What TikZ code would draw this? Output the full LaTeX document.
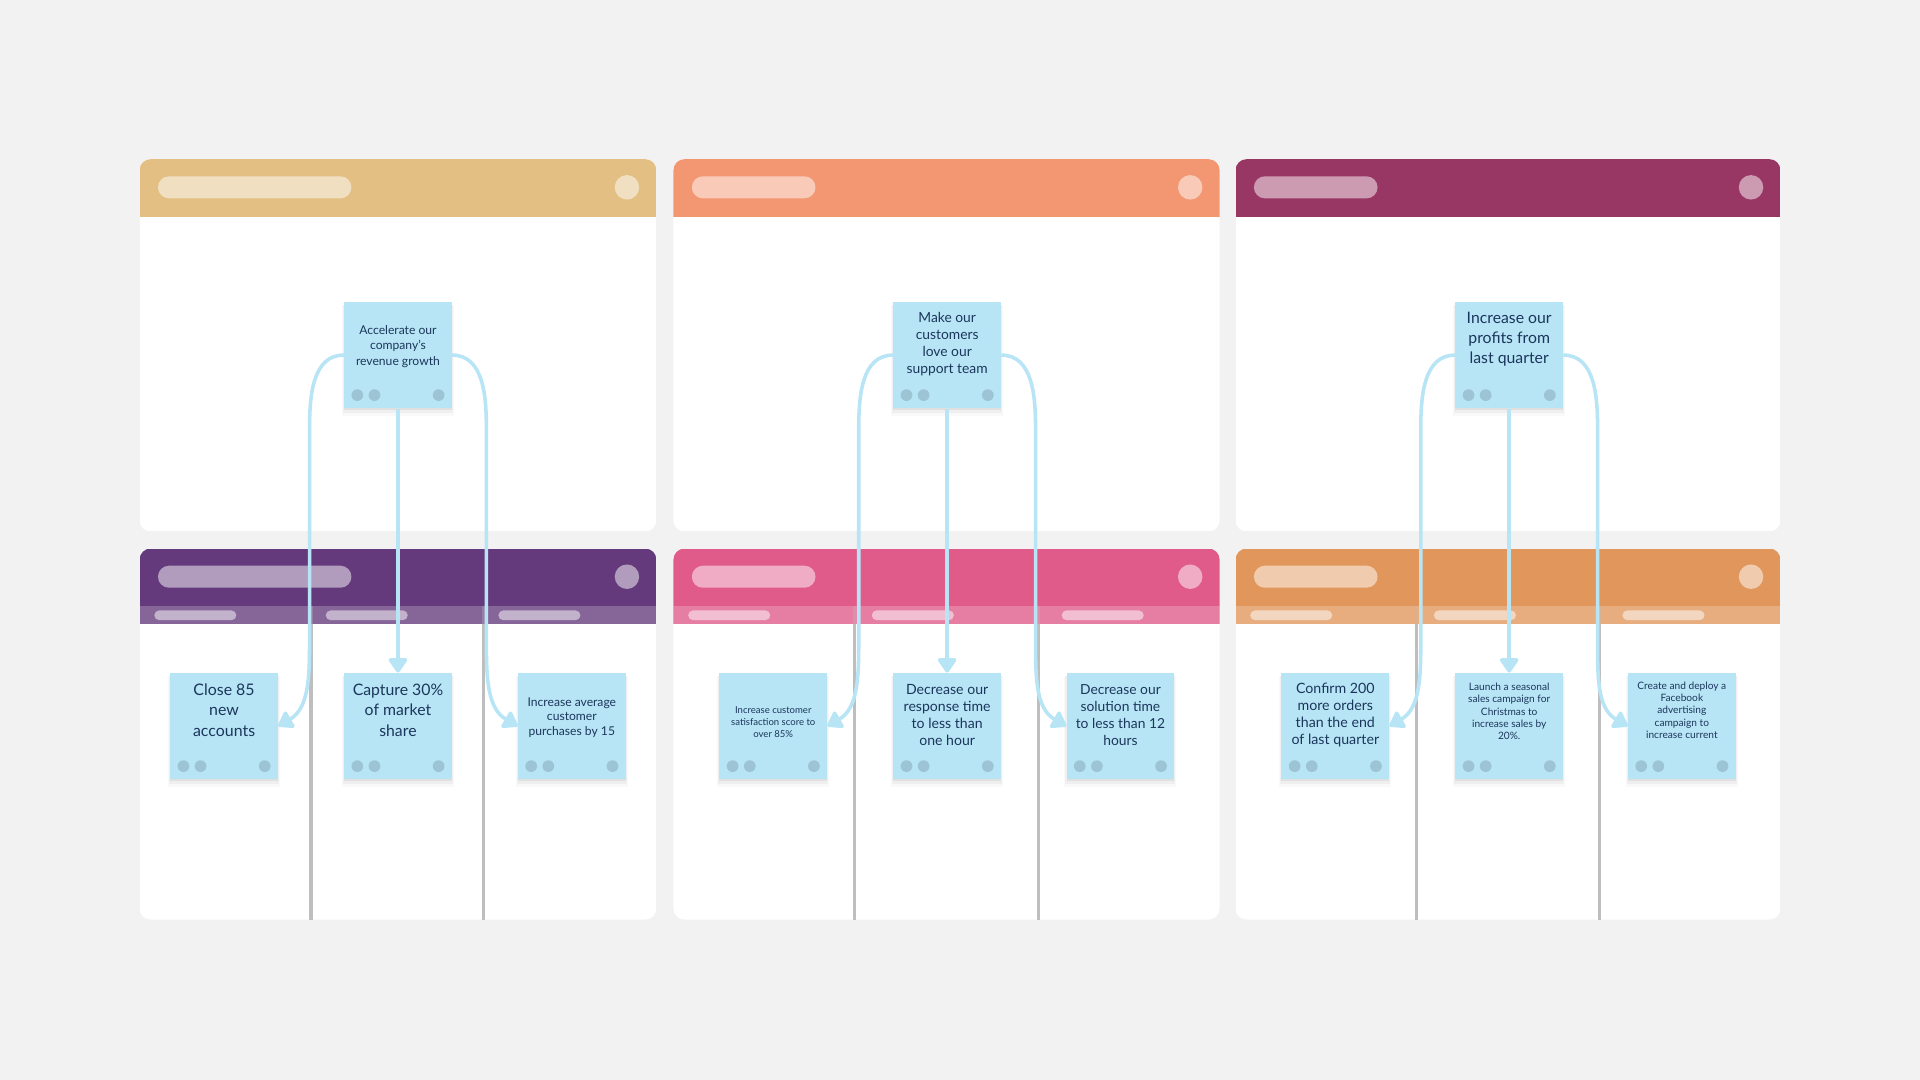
\documentclass[tikz,border=0pt]{standalone}
\usepackage{fontspec}
\setmainfont{Lato}
\usepackage{xcolor}
\usepackage{tikz}
\usetikzlibrary{calc,arrows.meta,shadows}
\definecolor{bg}{HTML}{F2F2F2}
\definecolor{sand}{HTML}{E4BF83}
\definecolor{salmon}{HTML}{F39672}
\definecolor{plum}{HTML}{993764}
\definecolor{grape}{HTML}{643A7C}
\definecolor{rose}{HTML}{E05A8A}
\definecolor{apricot}{HTML}{E1975C}
\definecolor{notebg}{HTML}{B8E5F5}
\definecolor{dotc}{HTML}{9DC4D4}
\definecolor{ink}{HTML}{1B365C}
\definecolor{wire}{HTML}{B8E5F5}
\definecolor{divc}{HTML}{BEBEBE}
\tikzset{
  hpill/.style={fill=white, fill opacity=0.5, rounded corners=9pt},
  bpill/.style={fill=white, fill opacity=0.5, rounded corners=4pt},
  knob/.style={fill=white, fill opacity=0.5},
  bandtint/.style={fill=white, fill opacity=0.22},
  divider/.style={draw=divc, line width=2.5pt},
  note/.style={rectangle, fill=notebg, minimum width=88pt, minimum height=87pt, inner sep=0pt,
    general shadow={shadow yshift=-1.5pt, opacity=0.06, fill=black},
    general shadow={shadow yshift=-3pt, shadow scale=1.02, opacity=0.04, fill=black},
    general shadow={shadow yshift=-4.5pt, shadow scale=1.04, opacity=0.025, fill=black}},
  ntxt/.style={text=ink, align=center, inner sep=0pt},
  conn/.style={draw=wire, line width=2.9pt, -{Triangle[length=13pt,width=17pt,round]}}
}

\begin{document}
\begin{tikzpicture}[x=1pt,y=1pt]
  \useasboundingbox (0,0) rectangle (1568,882);
  \fill[bg] (0,0) rectangle (1568,882);

  % upper lanes
  \foreach \xa/\xb/\hd/\pw in {114/536/sand/158, 550/996/salmon/101, 1009/1454/plum/101}{
    \begin{scope}
      \clip[rounded corners=9pt] (\xa,448) rectangle (\xb,752);
      \fill[white] (\xa,448) rectangle (\xb,752);
      \fill[\hd] (\xa,705) rectangle (\xb,752);
    \end{scope}
    \fill[hpill] (\xa+15,720) rectangle (\xa+15+\pw,738);
    \fill[knob] (\xb-24,729) circle (10pt);
  }

  % lower lanes with sub band
  \foreach \xa/\xb/\hd/\pw in {114/536/grape/158, 550/996/rose/101, 1009/1454/apricot/101}{
    \begin{scope}
      \clip[rounded corners=9pt] (\xa,131) rectangle (\xb,434);
      \fill[white] (\xa,131) rectangle (\xb,434);
      \fill[\hd] (\xa,372) rectangle (\xb,434);
      \fill[bandtint] (\xa,372) rectangle (\xb,387);
    \end{scope}
    \fill[hpill] (\xa+15,402) rectangle (\xa+15+\pw,420);
    \fill[knob] (\xb-24,411) circle (10pt);
  }

  % column dividers
  \foreach \dx in {254,395,698,848,1157,1306}{
    \draw[divider] (\dx,131) -- (\dx,372);
    \draw[divider, draw opacity=0.3] (\dx,372) -- (\dx,387);
  }
  \foreach \px in {126,266,407,562,712,867,1021,1171,1325}
    \fill[bpill] (\px,375.5) rectangle (\px+67,383.5);

  % goals
  \node[note] (t1) at (325,592) {};
  \node[note] (t2) at (773.5,592) {};
  \node[note] (t3) at (1232.5,592) {};
  % key results
  \node[note] (b11) at (183,289) {};
  \node[note] (b12) at (325,289) {};
  \node[note] (b13) at (467,289) {};
  \node[note] (b21) at (631.5,289) {};
  \node[note] (b22) at (773.5,289) {};
  \node[note] (b23) at (915,289) {};
  \node[note] (b31) at (1090.5,289) {};
  \node[note] (b32) at (1232.5,289) {};
  \node[note] (b33) at (1373.5,289) {};

  \node[ntxt, font=\fontsize{9.9}{12.5}\selectfont] (t1x) at ($(t1)+(0,7)$) {Accelerate our\\company’s\\revenue growth};
  \node[ntxt, font=\fontsize{11.3}{14}\selectfont] (t2x) at ($(t2)+(0,9)$) {Make our\\customers\\love our\\support team};
  \node[ntxt, font=\fontsize{12.9}{16.5}\selectfont] (t3x) at ($(t3)+(0,13)$) {Increase our\\profits from\\last quarter};

  \node[ntxt, font=\fontsize{13}{16.5}\selectfont] (b11x) at ($(b11)+(0,13)$) {Close 85\\new\\accounts};
  \node[ntxt, font=\fontsize{12.9}{16.5}\selectfont] (b12x) at ($(b12)+(0,13)$) {Capture 30\%\\of market\\share};
  \node[ntxt, font=\fontsize{9.9}{12}\selectfont] (b13x) at ($(b13)+(0,7)$) {Increase average\\customer\\purchases by 15};
  \node[ntxt, font=\fontsize{7.8}{9.8}\selectfont] (b21x) at ($(b21)+(0,3)$) {Increase customer\\satisfaction score to\\over 85\%};
  \node[ntxt, font=\fontsize{11.5}{14}\selectfont] (b22x) at ($(b22)+(0,9)$) {Decrease our\\response time\\to less than\\one hour};
  \node[ntxt, font=\fontsize{11.3}{14}\selectfont] (b23x) at ($(b23)+(0,9)$) {Decrease our\\solution time\\to less than 12\\hours};
  \node[ntxt, font=\fontsize{11.6}{14}\selectfont] (b31x) at ($(b31)+(0,9)$) {Confirm 200\\more orders\\than the end\\of last quarter};
  \node[ntxt, font=\fontsize{8.3}{10}\selectfont] (b32x) at ($(b32)+(0,12)$) {Launch a seasonal\\sales campaign for\\Christmas to\\increase sales by\\20\%.};
  \node[ntxt, font=\fontsize{8.3}{10}\selectfont] (b33x) at ($(b33)+(0,13)$) {Create and deploy a\\Facebook\\advertising\\campaign to\\increase current};

  % note footer dots
  \foreach \n in {t1,t2,t3,b11,b12,b13,b21,b22,b23,b31,b32,b33}{
    \fill[dotc] ($(\n.south west)+(11,11)$) circle (4.8pt);
    \fill[dotc] ($(\n.south west)+(25,11)$) circle (4.8pt);
    \fill[dotc] ($(\n.south east)+(-11,11)$) circle (4.8pt);
  }

  % links goal -> key results
  \draw[conn] (t1.south) -- (b12.north);
  \draw[conn] (t1.west) to[out=180,in=90] ++(-28,-60) -- ++(0,-173) to[out=-90,in=30] (b11.east);
  \draw[conn] (t1.east) to[out=0,in=90] ++(28,-60) -- ++(0,-173) to[out=-90,in=150] (b13.west);

  \draw[conn] (t2.south) -- (b22.north);
  \draw[conn] (t2.west) to[out=180,in=90] ++(-28,-60) -- ++(0,-173) to[out=-90,in=30] (b21.east);
  \draw[conn] (t2.east) to[out=0,in=90] ++(28,-60) -- ++(0,-173) to[out=-90,in=150] (b23.west);

  \draw[conn] (t3.south) -- (b32.north);
  \draw[conn] (t3.west) to[out=180,in=90] ++(-28,-60) -- ++(0,-173) to[out=-90,in=30] (b31.east);
  \draw[conn] (t3.east) to[out=0,in=90] ++(28,-60) -- ++(0,-173) to[out=-90,in=150] (b33.west);
\end{tikzpicture}
\end{document}
